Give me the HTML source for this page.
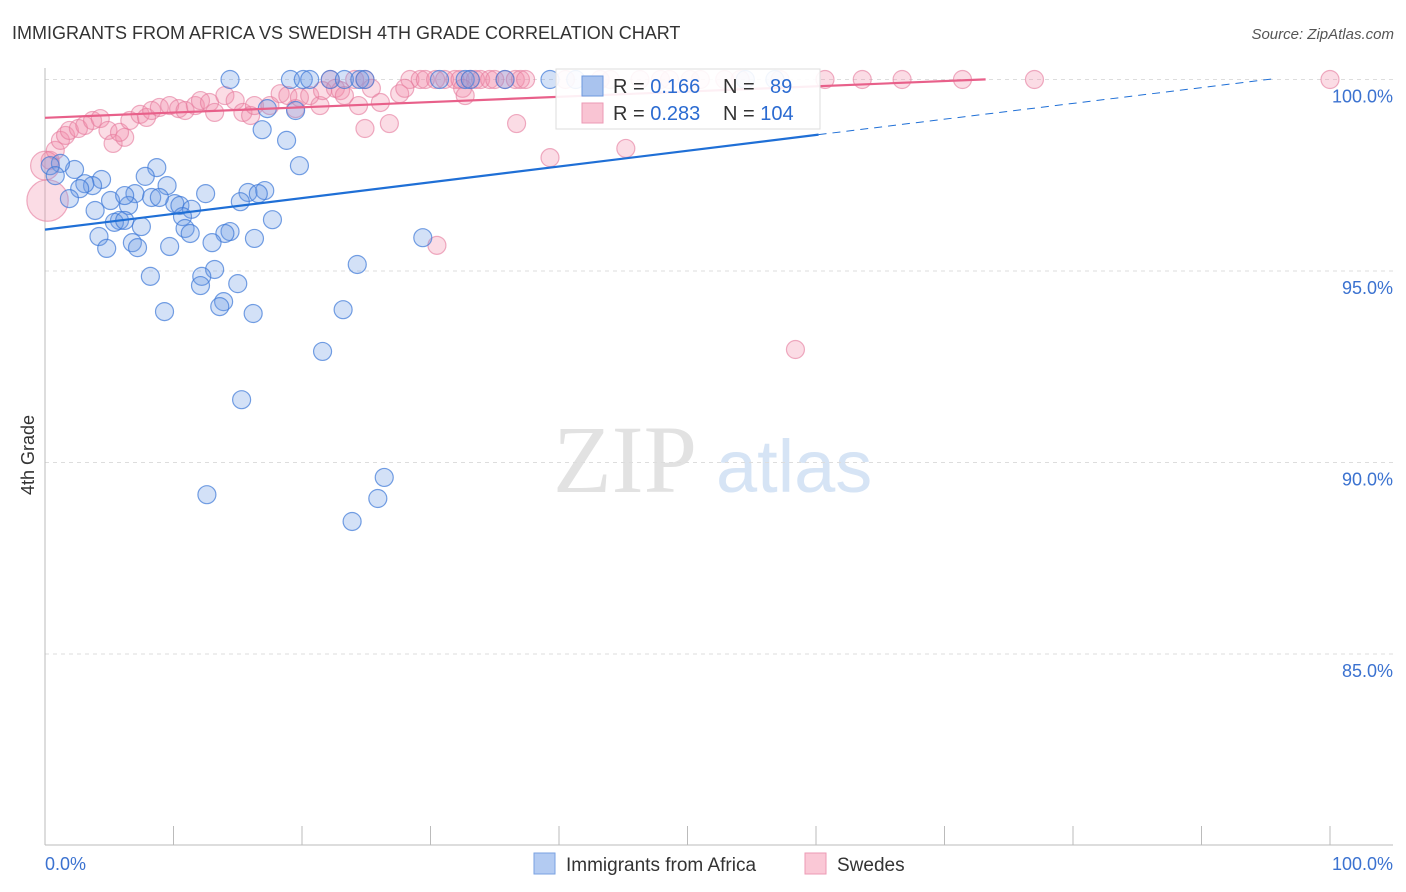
<!DOCTYPE html>
<html><head><meta charset="utf-8"><style>
body{margin:0;background:#fff;font-family:"Liberation Sans",sans-serif;}
svg{display:block}
</style></head><body>
<svg id="chart" width="1406" height="892" viewBox="0 0 1406 892">
<text x="12" y="39" font-size="18" fill="#333">IMMIGRANTS FROM AFRICA VS SWEDISH 4TH GRADE CORRELATION CHART</text>
<text x="1394" y="39" font-size="15" fill="#555" font-style="italic" text-anchor="end">Source: ZipAtlas.com</text>
<g>
<text x="553" y="492" font-family="Liberation Serif,serif" font-size="96" fill="#e2e2e2">ZIP</text>
<text x="716" y="492" font-size="74" fill="#d6e4f5">atlas</text>
</g>
<g id="grid"></g>
<g id="axes"></g>
<g id="marks"></g>
<g id="lines"></g>
<text transform="translate(34,455) rotate(-90)" font-size="18" fill="#333" text-anchor="middle">4th Grade</text>
<g>
<rect x="556" y="69" width="264" height="60" fill="#fff" fill-opacity="0.9" stroke="#ddd"/>
<rect x="582" y="76" width="21" height="20" fill="#a9c3ee" stroke="#6d98dd"/>
<rect x="582" y="103" width="21" height="20" fill="#f9c4d3" stroke="#ec9ab4"/>
<text x="613" y="93" font-size="20" fill="#333">R = <tspan fill="#2b6bd1">0.166</tspan></text>
<text x="723" y="93" font-size="20" fill="#333">N = <tspan fill="#2b6bd1" x="770">89</tspan></text>
<text x="613" y="120" font-size="20" fill="#333">R = <tspan fill="#2b6bd1">0.283</tspan></text>
<text x="723" y="120" font-size="20" fill="#333">N = <tspan fill="#2b6bd1">104</tspan></text>
</g>
<g>
<rect x="534" y="853" width="21" height="21" fill="#b3cbf2" stroke="#7aa2e2"/>
<text x="566" y="871" font-size="19" fill="#333">Immigrants from Africa</text>
</g>
<g>
<rect x="805" y="853" width="21" height="21" fill="#fac8d6" stroke="#ec9ab4"/>
<text x="837" y="871" font-size="19" fill="#333">Swedes</text>
</g>
</svg>
<script>
const yTicks=[100,95,90,85];
const yTickLabels=["100.0%","95.0%","90.0%","85.0%"];
const xTickVals=[0,10,20,30,40,50,60,70,80,90,100];
const xEndLabels=["0.0%","100.0%"];
const blueX=[14.4,19.1,20.1,20.6,22.2,23.3,24.5,24.9,30.7,32.7,33.1,35.8,39.3,41.3,54.5,56.8,19.5,17.3,16.9,18.8,19.8,8.7,7.8,2.3,1.2,0.4,0.8,4.4,3.7,3.1,2.7,9.5,7.0,8.3,1.9,5.1,12.5,15.8,17.1,16.6,15.2,10.1,10.5,8.9,11.4,6.5,3.9,5.8,5.4,6.2,7.5,10.7,10.9,11.3,14.4,14.0,4.2,13.0,16.3,17.7,6.8,7.2,4.8,9.7,29.4,8.2,13.2,12.2,12.1,15.0,24.3,13.9,13.6,9.3,16.2,23.2,21.6,15.3,26.4,25.9,12.6,23.9,6.2];
const blueY=[100,100,100,100,100,100,100,100,100,100,100,100,100,100,100,100,99.19,99.24,98.69,98.41,97.75,97.70,97.47,97.65,97.81,97.75,97.49,97.39,97.23,97.28,97.15,97.23,97.02,96.92,96.89,96.84,97.02,97.05,97.10,97.02,96.81,96.76,96.71,96.92,96.61,96.71,96.58,96.32,96.27,96.32,96.16,96.42,96.11,95.98,96.03,95.98,95.90,95.74,95.85,96.34,95.74,95.61,95.59,95.64,95.87,94.86,95.04,94.86,94.62,94.67,95.17,94.20,94.07,93.94,93.89,93.99,92.90,91.64,89.61,89.06,89.16,88.46,96.97];
const pinkX=[22.2,24.1,24.9,28.4,29.2,29.6,30.4,31.1,31.9,32.3,33.1,33.5,33.9,34.6,35.0,35.8,36.6,37.0,37.4,40.5,43.2,44.0,46.3,47.9,48.6,50.2,51.0,52.9,54.1,57.2,60.7,63.6,66.7,71.4,77.0,100,0.4,0.8,1.2,1.6,1.9,2.6,3.1,3.7,4.3,4.9,5.3,6.2,5.8,6.6,7.4,7.9,8.3,8.9,9.7,10.4,10.9,11.7,12.1,12.8,13.2,14.0,14.8,15.4,16.0,16.3,17.5,18.3,18.9,19.5,19.8,20.6,21.4,21.6,22.6,23.0,23.3,24.4,24.9,25.4,26.1,26.8,27.6,28.0,32.5,32.7,36.7,39.3,45.2,30.5,58.4,0.2,0.0];
const pinkY=[100,100,100,100,100,100,100,100,100,100,100,100,100,100,100,100,100,100,100,100,100,100,100,100,100,100,100,100,100,100,100,100,100,100,100,100,97.89,98.15,98.41,98.54,98.67,98.72,98.80,98.93,98.98,98.67,98.33,98.49,98.62,98.93,99.09,99.01,99.19,99.27,99.32,99.24,99.19,99.32,99.45,99.40,99.14,99.58,99.45,99.14,99.06,99.32,99.32,99.63,99.58,99.24,99.53,99.58,99.32,99.71,99.77,99.71,99.58,99.32,98.72,99.77,99.40,98.85,99.63,99.77,99.77,99.58,98.85,97.96,98.20,95.67,92.95,96.84,97.75];
const pinkSize=[1,1,1,1,1,1,1,1,1,1,1,1,1,1,1,1,1,1,1,1,1,1,1,1,1,1,1,1,1,1,1,1,1,1,1,1,1,1,1,1,1,1,1,1,1,1,1,1,1,1,1,1,1,1,1,1,1,1,1,1,1,1,1,1,1,1,1,1,1,1,1,1,1,1,1,1,1,1,1,1,1,1,1,1,1,1,1,1,1,1,1,2.3,1.6];
const blueFit=[96.08,0.0412];   // intercept, slope (pct per pct)
const pinkFit=[99.0,0.0137];
const blueSolidEnd=60.2, blueDashEnd=95.8, pinkEnd=73.2;

const X0=45,X1=1330,YTOP=79.5,PX_PER=38.3;
const sx=v=>X0+(X1-X0)*v/100;
const sy=v=>YTOP+(100-v)*PX_PER;
const NS="http://www.w3.org/2000/svg";
function mk(tag,attrs,parent){const e=document.createElementNS(NS,tag);for(const k in attrs)e.setAttribute(k,attrs[k]);parent.appendChild(e);return e;}
const grid=document.getElementById('grid'),axes=document.getElementById('axes'),marks=document.getElementById('marks'),lines=document.getElementById('lines');
yTicks.forEach((t,i)=>{
  const l=mk('line',{x1:X0,x2:1393,y1:sy(t),y2:sy(t),stroke:'#ddd','stroke-dasharray':'4,4'},grid);
  
  
  const tx=mk('text',{x:1393,y:sy(t)+23,'font-size':18,fill:'#3b72d0','text-anchor':'end'},axes);
  tx.textContent=yTickLabels[i];
  
  
});
const ax=mk('line',{x1:X0,x2:1393,y1:845,y2:845,stroke:'#bbb'},axes);


const ay=mk('line',{x1:X0,x2:X0,y1:68,y2:845,stroke:'#bbb'},axes);


xTickVals.forEach(t=>{
  const l=mk('line',{x1:sx(t),x2:sx(t),y1:826,y2:845,stroke:'#bbb'},axes);
  
  
});
[[0,'start',45],[1,'end',1393]].forEach(([i,a,x])=>{
  const tx=mk('text',{x:x,y:870,'font-size':18,fill:'#3b72d0','text-anchor':a},axes);
  tx.textContent=xEndLabels[i];
  
  
});
pinkX.forEach((v,i)=>{
  const c=mk('circle',{cx:sx(v),cy:sy(pinkY[i]),r:9*pinkSize[i],fill:'rgba(242,140,170,0.3)',stroke:'rgba(228,120,155,0.6)','stroke-width':1.2},marks);
  
  
});
blueX.forEach((v,i)=>{
  const c=mk('circle',{cx:sx(v),cy:sy(blueY[i]),r:9,fill:'rgba(110,155,230,0.3)',stroke:'rgba(60,120,215,0.7)','stroke-width':1.2},marks);
  
  
});
const f=(fit,x)=>fit[0]+fit[1]*x;
const bl=mk('line',{x1:sx(0),y1:sy(f(blueFit,0)),x2:sx(blueSolidEnd),y2:sy(f(blueFit,blueSolidEnd)),stroke:'#1f6fd6','stroke-width':2.2},lines);


const bd=mk('line',{x1:sx(blueSolidEnd),y1:sy(f(blueFit,blueSolidEnd)),x2:sx(blueDashEnd),y2:sy(f(blueFit,blueDashEnd)),stroke:'#1f6fd6','stroke-width':1,'stroke-dasharray':'8,6'},lines);


const pl=mk('line',{x1:sx(0),y1:sy(f(pinkFit,0)),x2:sx(pinkEnd),y2:sy(f(pinkFit,pinkEnd)),stroke:'#e8608a','stroke-width':2.2},lines);


</script>
</body></html>
